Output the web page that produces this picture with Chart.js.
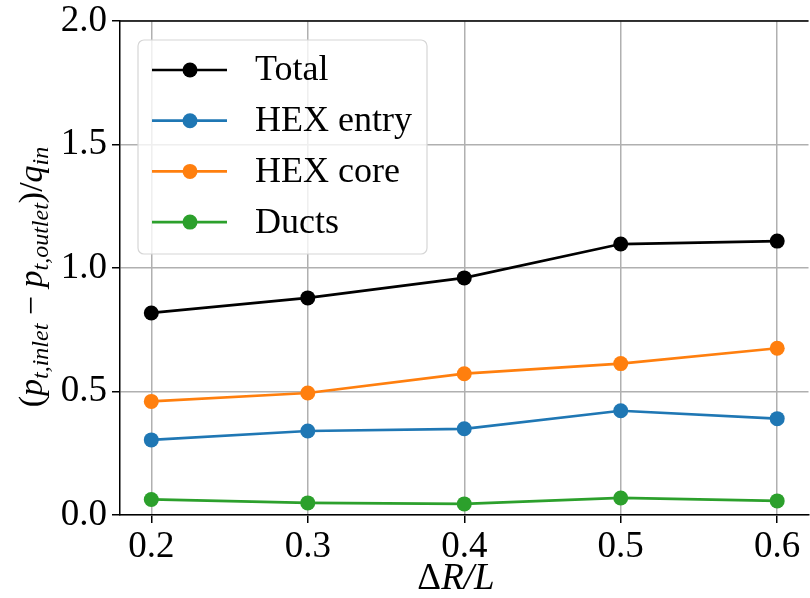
<!DOCTYPE html>
<html>
<head>
<meta charset="utf-8">
<script src="https://cdn.jsdelivr.net/npm/chart.js@4"></script>
<style>
  html, body { margin: 0; padding: 0; background: #fff; overflow: hidden; }
  #wrap { width: 816px; height: 598px; }
</style>
</head>
<body>
<div id="wrap"><canvas id="lineChart" width="816" height="598"></canvas></div>
<script>
// data
var ratios = [0.2, 0.3, 0.4, 0.5, 0.6];
var total = [0.818, 0.879, 0.960, 1.097, 1.109];
var hexEntry = [0.304, 0.340, 0.349, 0.422, 0.390];
var hexCore = [0.460, 0.494, 0.572, 0.613, 0.675];
var ducts = [0.063, 0.049, 0.045, 0.069, 0.057];
var xTicks = [0.2, 0.3, 0.4, 0.5, 0.6];
var yTicks = [0.0, 0.5, 1.0, 1.5, 2.0];

var serif = '"Liberation Serif", "DejaVu Serif", serif';
var fs = 37;

function pts(vals) {
    return vals.map(function (v, i) { return { x: ratios[i], y: v }; });
}
function series(label, vals, color) {
    return {
        label: label,
        data: pts(vals),
        borderColor: color,
        backgroundColor: color,
        borderWidth: 2.7,
        pointRadius: 7.5,
        pointHoverRadius: 7.5,
        pointBorderWidth: 0,
        fill: false,
        tension: 0
    };
}

// top spine, legend box, x title and y label with subscripts
var extras = {
    id: 'extras',
    afterDraw: function (chart) {
        var c = chart.ctx, a = chart.chartArea;
        c.save();
        c.strokeStyle = '#000';
        c.lineWidth = 1.5;
        c.beginPath();
        c.moveTo(a.left, a.top);
        c.lineTo(a.right, a.top);
        c.stroke();

        // legend
        var lx = 138, ly = 40, lw = 289, lh = 214, r = 6;
        c.fillStyle = 'rgba(255,255,255,0.8)';
        c.strokeStyle = '#d6d6d6';
        c.lineWidth = 1.2;
        c.beginPath();
        c.roundRect(lx, ly, lw, lh, r);
        c.fill();
        c.stroke();
        c.font = '36px ' + serif;
        c.textBaseline = 'middle';
        chart.data.datasets.forEach(function (ds, i) {
            var yy = 70 + i * 50.7;
            c.strokeStyle = ds.borderColor;
            c.lineWidth = 2.7;
            c.beginPath();
            c.moveTo(152, yy);
            c.lineTo(227, yy);
            c.stroke();
            c.fillStyle = ds.borderColor;
            c.beginPath();
            c.arc(190, yy, 7.5, 0, Math.PI * 2);
            c.fill();
            c.fillStyle = '#000';
            c.fillText(ds.label, 255, yy + 1);
        });

        function drawParts(parts, cx, cy, big, small) {
            function fontOf(k) {
                if (k === 'n') return big + 'px ' + serif;
                if (k === 'i') return 'italic ' + big + 'px ' + serif;
                return 'italic ' + small + 'px ' + serif;
            }
            var wsum = 0;
            parts.forEach(function (p) { c.font = fontOf(p[1]); wsum += c.measureText(p[0]).width; });
            var x0 = cx - wsum / 2;
            parts.forEach(function (p) {
                c.font = fontOf(p[1]);
                c.fillText(p[0], x0, cy + (p[1] === 's' ? 6 : 0));
                x0 += c.measureText(p[0]).width;
            });
        }
        c.fillStyle = '#000';
        c.textBaseline = 'alphabetic';
        c.textAlign = 'left';

        // x axis title
        drawParts([['\u0394', 'n'], ['R/L', 'i']], 456, 589, fs, 26);

        // y axis label
        c.translate(31, 277);
        c.rotate(-Math.PI / 2);
        drawParts([
            ['(', 'n'], ['p', 'i'], ['t,inlet', 's'], [' \u2212 ', 'n'], ['p', 'i'],
            ['t,outlet', 's'], [')/', 'n'], ['q', 'i'], ['in', 's']
        ], 0, 11, 34, 24);
        c.restore();
    }
};

var chart = new Chart(document.getElementById('lineChart').getContext('2d'), {
    type: 'line',
    data: {
        datasets: [
            series('Total', total, '#000000'),
            series('HEX entry', hexEntry, '#1f77b4'),
            series('HEX core', hexCore, '#ff7f0e'),
            series('Ducts', ducts, '#2ca02c')
        ]
    },
    options: {
        responsive: false,
        animation: false,
        layout: { padding: { top: 21, right: 2, left: 0, bottom: 0 } },
        plugins: { legend: { display: false }, tooltip: { enabled: false } },
        scales: {
            x: {
                type: 'linear',
                min: 0.18,
                max: 0.62,
                afterBuildTicks: function (s) { s.ticks = xTicks.map(function (v) { return { value: v }; }); },
                afterFit: function (s) { s.height = 83; s.paddingLeft = 0; s.paddingRight = 0; },
                grid: { color: '#b0b0b0', lineWidth: 1.5, tickColor: '#000', tickLength: 8, tickWidth: 1.5 },
                border: { display: true, color: '#000', width: 1.5 },
                ticks: {
                    color: '#000',
                    font: { family: serif, size: fs },
                    padding: 2,
                    maxRotation: 0,
                    callback: function (v) { return v.toFixed(1); }
                }
            },
            y: {
                min: 0,
                max: 2,
                afterBuildTicks: function (s) { s.ticks = yTicks.map(function (v) { return { value: v }; }); },
                afterFit: function (s) { s.width = 120; s.paddingTop = 0; s.paddingBottom = 0; },
                grid: { color: '#b0b0b0', lineWidth: 1.5, tickColor: '#000', tickLength: 8, tickWidth: 1.5 },
                border: { display: true, color: '#000', width: 1.5 },
                ticks: {
                    color: '#000',
                    font: { family: serif, size: fs },
                    padding: 5,
                    callback: function (v) { return v.toFixed(1); }
                }
            }
        }
    },
    plugins: [extras]
});
</script>
</body>
</html>
